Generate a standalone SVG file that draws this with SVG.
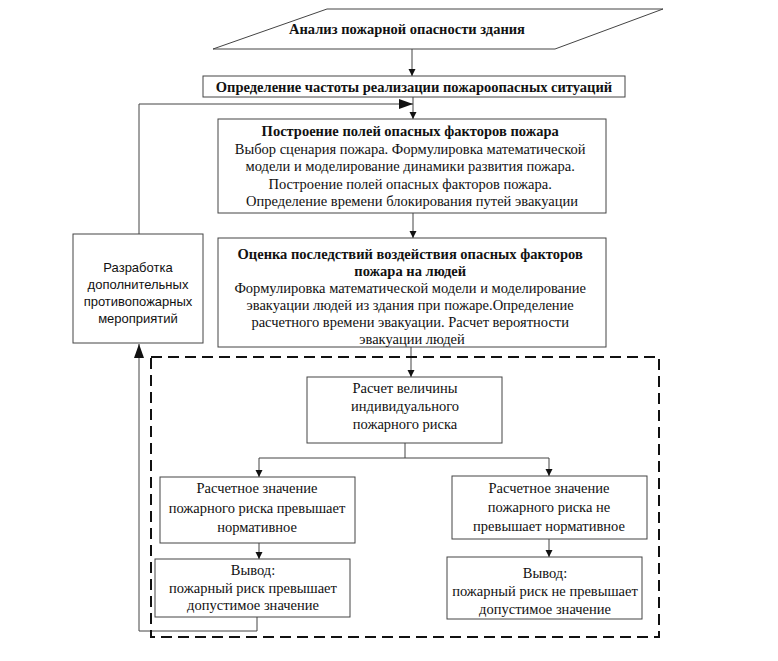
<svg xmlns="http://www.w3.org/2000/svg" width="778" height="661" viewBox="0 0 778 661">
<style>
.box{fill:#fff;stroke:#444;stroke-width:1}
.ln{fill:none;stroke:#444;stroke-width:1}
.t{font-family:"Liberation Serif","Times New Roman",serif;font-size:14.5px;fill:#111;text-anchor:middle}
.b{font-weight:bold}
.s{font-family:"Liberation Sans",Arial,sans-serif;font-size:13px;fill:#111;text-anchor:middle}
.dash{fill:none;stroke:#111;stroke-width:2;stroke-dasharray:11 6}
</style>
<defs>
<marker id="a" markerUnits="userSpaceOnUse" markerWidth="8" markerHeight="8" refX="7" refY="3.5" orient="auto"><path d="M0,0 L7,3.5 L0,7 z" fill="#111"/></marker>
<marker id="A" markerUnits="userSpaceOnUse" markerWidth="16" markerHeight="12" refX="14" refY="5" orient="auto"><path d="M0,0 L14,5 L0,10 z" fill="#111"/></marker>
</defs>
<rect width="778" height="661" fill="#fff"/>

<g id="connectors">
<line class="ln" x1="412" y1="49" x2="412" y2="76" marker-end="url(#a)"/>
<line class="ln" x1="413" y1="97" x2="413" y2="119" marker-end="url(#a)"/>
<line class="ln" x1="413" y1="213" x2="413" y2="238" marker-end="url(#a)"/>
<line class="ln" x1="411" y1="347" x2="411" y2="377" marker-end="url(#a)"/>
<polyline class="ln" points="405,443 405,458 259,458 259,477" marker-end="url(#a)"/>
<polyline class="ln" points="405,458 549,458 549,476" marker-end="url(#a)"/>
<line class="ln" x1="259" y1="543" x2="259" y2="559" marker-end="url(#a)"/>
<line class="ln" x1="549" y1="539" x2="549" y2="557" marker-end="url(#a)"/>
<polyline class="ln" points="257,617 257,631 139,631 139,344" marker-end="url(#A)"/>
<polyline class="ln" points="139,234 139,104 413,104" marker-end="url(#A)"/>
</g>

<rect id="group-boundary" class="dash" x="151" y="357" width="508" height="280"/>

<g id="n1">
<polygon class="box" points="327,9 663,9 555,49 213,49"/>
<text class="t b" x="407" y="34">Анализ пожарной опасности здания</text>
</g>

<g id="n2">
<rect class="box" x="203" y="76" width="422" height="21"/>
<text class="t b" x="414" y="92">Определение частоты реализации пожароопасных ситуаций</text>
</g>

<g id="n3">
<rect class="box" x="218" y="119" width="388" height="94"/>
<text class="t" x="412" y="136"><tspan class="b">Построение полей опасных факторов пожара</tspan>
<tspan x="412" y="154">Выбор сценария пожара. Формулировка математической</tspan>
<tspan x="412" y="171">модели и моделирование динамики развития пожара.</tspan>
<tspan x="412" y="189">Построение полей опасных факторов пожара.</tspan>
<tspan x="412" y="206">Определение времени блокирования путей эвакуации</tspan></text>
</g>

<g id="n4">
<rect class="box" x="218" y="238" width="388" height="109"/>
<text class="t" x="412" y="259"><tspan class="b">Оценка последствий воздействия опасных факторов</tspan>
<tspan class="b" x="412" y="276">пожара на людей</tspan>
<tspan x="412" y="293">Формулировка математической модели и моделирование</tspan>
<tspan x="412" y="310">эвакуации людей из здания при пожаре.Определение</tspan>
<tspan x="412" y="327">расчетного времени эвакуации. Расчет вероятности</tspan>
<tspan x="412" y="344">эвакуации людей</tspan></text>
</g>

<g id="n5">
<rect class="box" x="73" y="234" width="130" height="109"/>
<text class="s" x="138" y="272">Разработка<tspan x="138" y="289">дополнительных</tspan><tspan x="138" y="306">противопожарных</tspan><tspan x="138" y="323">мероприятий</tspan></text>
</g>

<g id="n6">
<rect class="box" x="307" y="377" width="195" height="66"/>
<text class="t" x="405" y="393">Расчет величины<tspan x="405" y="411">индивидуального</tspan><tspan x="405" y="429">пожарного риска</tspan></text>
</g>

<g id="n7">
<rect class="box" x="160" y="477" width="195" height="66"/>
<text class="t" x="257" y="493">Расчетное значение<tspan x="257" y="513">пожарного риска превышает</tspan><tspan x="257" y="532">нормативное</tspan></text>
</g>

<g id="n8">
<rect class="box" x="452" y="476" width="195" height="63"/>
<text class="t" x="549" y="493">Расчетное значение<tspan x="549" y="512">пожарного риска не</tspan><tspan x="549" y="531">превышает нормативное</tspan></text>
</g>

<g id="n9">
<rect class="box" x="155" y="559" width="195" height="58"/>
<text class="t" x="253" y="575">Вывод:<tspan x="253" y="593">пожарный риск превышает</tspan><tspan x="253" y="610">допустимое значение</tspan></text>
</g>

<g id="n10">
<rect class="box" x="447" y="557" width="195" height="62"/>
<text class="t" x="545" y="578">Вывод:<tspan x="545" y="596">пожарный риск не превышает</tspan><tspan x="545" y="614">допустимое значение</tspan></text>
</g>
</svg>
